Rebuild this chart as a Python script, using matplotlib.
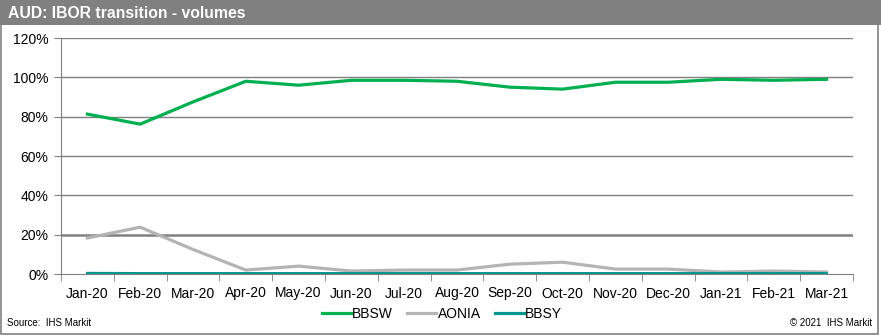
import matplotlib.pyplot as plt
from matplotlib.patches import Rectangle
from matplotlib.lines import Line2D

plt.rcParams['font.family'] = ['Liberation Sans', 'DejaVu Sans']

months = ['Jan-20', 'Feb-20', 'Mar-20', 'Apr-20', 'May-20', 'Jun-20', 'Jul-20', 'Aug-20',
          'Sep-20', 'Oct-20', 'Nov-20', 'Dec-20', 'Jan-21', 'Feb-21', 'Mar-21']
bbsw = [81.3, 76.2, 87.5, 98.0, 96.0, 98.5, 98.5, 98.0, 95.0, 94.0, 97.5, 97.5, 99.0, 98.5, 99.0]
aonia = [18.3, 23.8, 12.5, 2.0, 4.0, 1.5, 2.0, 2.0, 5.0, 6.0, 2.5, 2.5, 1.0, 1.5, 1.0]
bbsy = [0.4, 0.3, 0.3, 0.3, 0.3, 0.3, 0.3, 0.3, 0.3, 0.3, 0.3, 0.3, 0.3, 0.3, 0.3]

W, H = 881, 335
fig = plt.figure(figsize=(W / 100, H / 100), dpi=100)

# title bar and frame
fig.add_artist(Rectangle((0, 1 - 25 / H), 1, 25 / H, transform=fig.transFigure,
                         facecolor='#808080', edgecolor='none'))
fig.add_artist(Rectangle((0.5 / W, 1.5 / H), (W - 4) / W, (H - 2) / H, transform=fig.transFigure,
                         facecolor='none', edgecolor='#808080', lw=1.2))
fig.text(8 / W, 1 - 13 / H, 'AUD: IBOR transition - volumes', color='white',
         fontsize=11.3, fontweight='bold', va='center', ha='left')

ax = fig.add_axes([61 / W, 1 - 274 / H, (853 - 61) / W, (274 - 38) / H])
x = range(len(months))
ax.plot(x, bbsw, color='#00B050', lw=2.3, label='BBSW', zorder=4)
ax.plot(x, aonia, color='#B4B4B4', lw=2.3, label='AONIA', zorder=3)
ax.plot(x, bbsy, color='#00968F', lw=2.0, label='BBSY', zorder=5)

ax.set_xlim(-0.5, len(months) - 0.5)
ax.set_ylim(0, 120)
ax.set_yticks(range(0, 121, 20))
ax.set_yticklabels([f'{v}%' for v in range(0, 121, 20)], fontsize=10)
ax.set_xticks(list(x))
ax.set_xticklabels(months, fontsize=10)
ax.set_xticks([i - 0.5 for i in range(len(months) + 1)], minor=True)
ax.tick_params(axis='x', which='major', length=0, pad=9)
ax.tick_params(axis='x', which='minor', length=5, color='#808080', direction='out')
ax.tick_params(axis='y', length=5, color='#808080', direction='out', pad=4)

for v in range(20, 121, 20):
    ax.axhline(v, color='#808080', lw=1.8 if v == 20 else 1.0, zorder=1)
for s in ['top', 'right']:
    ax.spines[s].set_visible(False)
ax.spines['left'].set_color('#808080')
ax.spines['bottom'].set_color('#808080')

handles = [Line2D([], [], color='#00B050', lw=2.3),
           Line2D([], [], color='#B4B4B4', lw=2.3),
           Line2D([], [], color='#00968F', lw=2.3)]
fig.legend(handles, ['BBSW', 'AONIA', 'BBSY'], loc='center', bbox_to_anchor=(442 / W, 1 - 314 / H),
           ncol=3, frameon=False, fontsize=10, handlelength=2.1, handletextpad=0.1, columnspacing=1.0)

fig.text(7 / W, 1 - 323 / H, 'Source:  IHS Markit', fontsize=7, va='center', ha='left')
fig.text(872 / W, 1 - 323 / H, '© 2021  IHS Markit', fontsize=7, va='center', ha='right')

fig.savefig('out.png', dpi=100)
